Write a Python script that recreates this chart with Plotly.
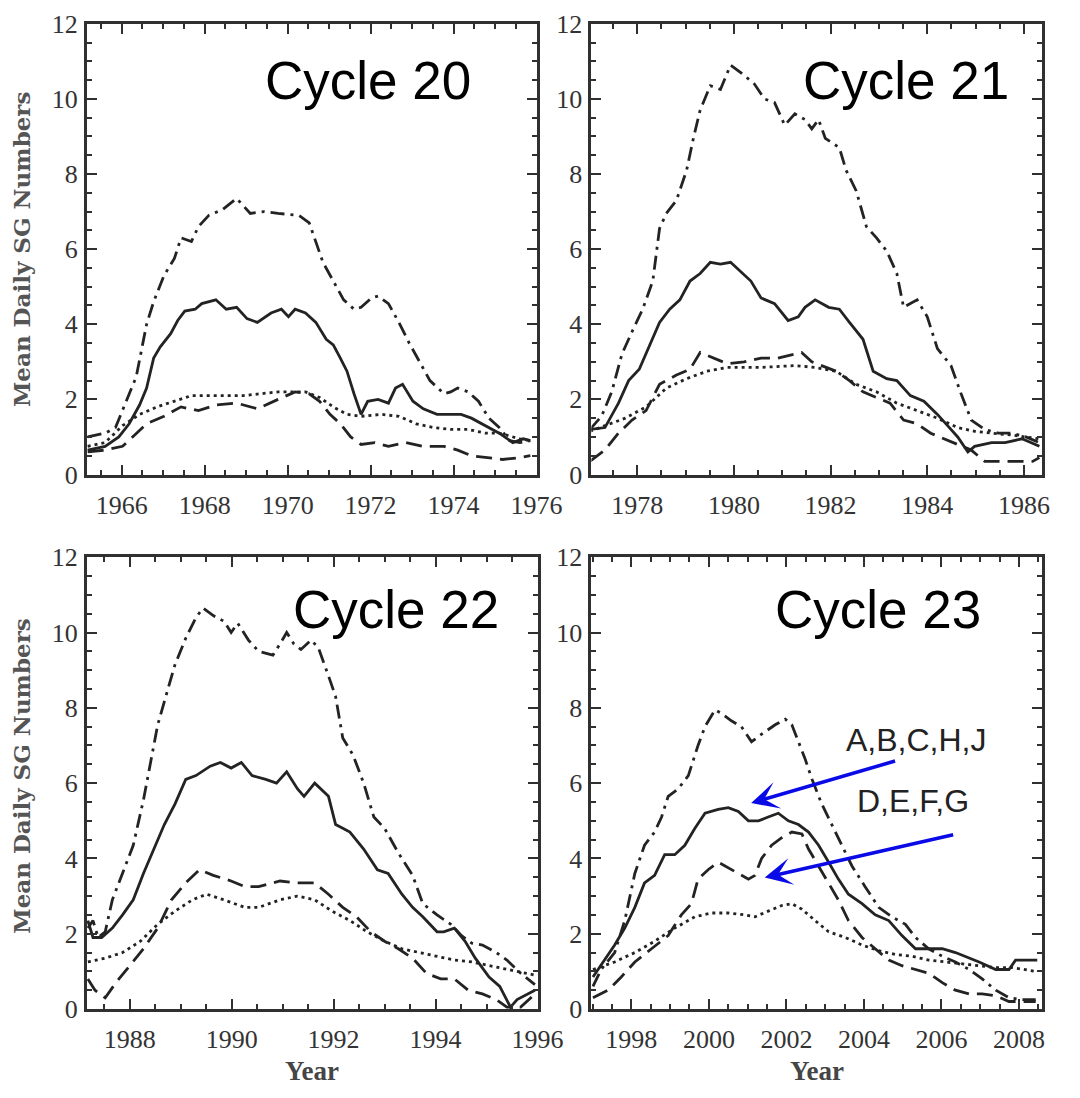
import plotly.graph_objects as go

# ---------------- data (year, mean daily SG number) ----------------
# Cycle 20
c20_dashdot_x = [1965.18,1965.60,1965.85,1966.10,1966.35,1966.60,1966.77,1967.02,1967.27,1967.43,1967.68,1967.85,1968.10,1968.43,1968.77,1969.10,1969.43,1969.77,1970.27,1970.52,1970.68,1970.85,1971.10,1971.35,1971.60,1971.77,1972.02,1972.18,1972.43,1972.68,1972.93,1973.18,1973.43,1973.77,1973.93,1974.10,1974.35,1974.60,1974.85,1975.10,1975.35,1975.60,1975.85]
c20_dashdot_y = [1.0,1.1,1.25,1.9,2.6,4.0,4.6,5.3,5.75,6.3,6.2,6.6,6.9,7.05,7.35,6.95,7.0,6.95,6.9,6.7,6.2,5.65,5.15,4.65,4.4,4.45,4.7,4.75,4.55,4.05,3.5,3.0,2.5,2.15,2.2,2.3,2.2,1.95,1.5,1.25,0.9,0.85,0.9]
c20_solid_x = [1965.18,1965.60,1965.93,1966.18,1966.43,1966.60,1966.77,1966.93,1967.18,1967.35,1967.52,1967.77,1967.93,1968.27,1968.52,1968.77,1969.02,1969.27,1969.60,1969.85,1970.02,1970.18,1970.43,1970.68,1970.93,1971.10,1971.27,1971.43,1971.60,1971.77,1971.93,1972.18,1972.43,1972.60,1972.77,1973.02,1973.27,1973.60,1973.93,1974.18,1974.43,1974.77,1975.10,1975.43,1975.68,1975.85]
c20_solid_y = [0.65,0.75,1.0,1.35,1.85,2.3,3.1,3.4,3.75,4.1,4.35,4.4,4.55,4.65,4.4,4.45,4.15,4.05,4.3,4.4,4.2,4.4,4.3,4.05,3.6,3.45,3.1,2.75,2.15,1.6,1.95,2.0,1.9,2.3,2.4,1.95,1.75,1.6,1.6,1.6,1.5,1.3,1.1,0.85,0.95,0.9]
c20_dashed_x = [1965.18,1965.60,1966.02,1966.27,1966.60,1967.02,1967.43,1967.85,1968.27,1968.77,1969.27,1969.77,1970.18,1970.52,1970.77,1971.02,1971.27,1971.52,1971.77,1972.10,1972.43,1972.85,1973.27,1973.77,1974.10,1974.43,1974.77,1975.18,1975.60,1975.85]
c20_dashed_y = [0.6,0.65,0.75,1.0,1.35,1.55,1.8,1.7,1.85,1.9,1.75,2.0,2.2,2.15,1.95,1.6,1.35,1.0,0.8,0.85,0.75,0.85,0.75,0.75,0.65,0.5,0.45,0.4,0.45,0.5]
c20_dotted_x = [1965.18,1965.60,1966.02,1966.43,1966.85,1967.27,1967.68,1968.10,1968.93,1969.77,1970.43,1970.77,1971.10,1971.43,1971.77,1972.27,1972.68,1973.10,1973.52,1973.93,1974.35,1974.77,1975.10,1975.60,1975.85]
c20_dotted_y = [0.75,0.85,1.3,1.6,1.8,1.95,2.1,2.1,2.1,2.2,2.2,2.05,1.8,1.6,1.55,1.6,1.55,1.35,1.25,1.2,1.2,1.1,1.1,0.95,0.9]

# Cycle 21
c21_dashdot_x = [1977.02,1977.26,1977.47,1977.68,1977.89,1978.11,1978.32,1978.46,1978.60,1978.81,1979.02,1979.16,1979.30,1979.51,1979.72,1979.93,1980.14,1980.42,1980.63,1980.84,1981.05,1981.26,1981.47,1981.61,1981.75,1981.89,1982.18,1982.32,1982.53,1982.74,1982.95,1983.16,1983.37,1983.51,1983.79,1984.00,1984.21,1984.49,1984.70,1984.91,1985.19,1985.47,1985.75,1986.04,1986.32]
c21_dashdot_y = [1.2,1.55,2.2,3.2,3.8,4.4,5.15,6.55,6.95,7.3,8.1,8.95,9.7,10.35,10.25,10.9,10.7,10.4,10.0,9.9,9.3,9.6,9.45,9.2,9.45,8.95,8.7,8.1,7.55,6.6,6.3,5.95,5.35,4.45,4.65,4.2,3.35,2.9,2.15,1.45,1.2,1.1,1.1,1.0,0.85]
c21_solid_x = [1977.02,1977.33,1977.61,1977.82,1978.04,1978.25,1978.46,1978.67,1978.88,1979.09,1979.30,1979.51,1979.72,1979.93,1980.14,1980.35,1980.56,1980.84,1981.12,1981.33,1981.47,1981.68,1981.96,1982.18,1982.39,1982.67,1982.88,1983.16,1983.37,1983.65,1983.93,1984.21,1984.42,1984.63,1984.84,1984.98,1985.33,1985.61,1985.96,1986.32]
c21_solid_y = [1.2,1.25,1.9,2.5,2.8,3.45,4.05,4.4,4.65,5.15,5.35,5.65,5.6,5.65,5.4,5.15,4.7,4.55,4.1,4.2,4.45,4.65,4.45,4.4,4.05,3.6,2.75,2.55,2.5,2.1,1.95,1.6,1.3,1.0,0.6,0.75,0.85,0.85,0.95,0.75]
c21_dashed_x = [1977.02,1977.33,1977.61,1977.89,1978.18,1978.46,1978.81,1979.09,1979.30,1979.58,1979.86,1980.21,1980.56,1980.91,1981.26,1981.40,1981.61,1981.82,1982.11,1982.39,1982.67,1982.95,1983.23,1983.51,1983.79,1984.07,1984.35,1984.56,1984.91,1985.19,1985.47,1985.82,1986.18,1986.32]
c21_dashed_y = [0.35,0.65,1.1,1.45,1.7,2.4,2.65,2.8,3.25,3.1,2.95,3.0,3.1,3.1,3.2,3.25,3.0,2.9,2.75,2.5,2.2,2.05,1.9,1.45,1.35,1.1,0.95,0.85,0.65,0.35,0.35,0.35,0.35,0.45]
c21_dotted_x = [1977.02,1977.33,1977.75,1978.18,1978.60,1979.02,1979.44,1979.86,1980.56,1981.26,1981.68,1982.11,1982.53,1982.95,1983.37,1983.79,1984.21,1984.63,1984.98,1985.33,1985.75,1986.32]
c21_dotted_y = [1.15,1.3,1.5,1.8,2.3,2.55,2.75,2.85,2.85,2.9,2.85,2.75,2.4,2.2,1.9,1.7,1.5,1.25,1.15,1.1,1.05,0.95]

# Cycle 22
c22_dashdot_x = [1987.18,1987.28,1987.38,1987.52,1987.66,1987.86,1988.07,1988.27,1988.41,1988.55,1988.75,1988.89,1989.10,1989.30,1989.44,1989.64,1989.85,1989.99,1990.12,1990.33,1990.53,1990.81,1990.95,1991.08,1991.22,1991.36,1991.56,1991.70,1991.90,1992.04,1992.18,1992.38,1992.59,1992.79,1993.00,1993.27,1993.55,1993.75,1994.03,1994.30,1994.51,1994.71,1994.92,1995.19,1995.40,1995.67,1995.95]
c22_dashdot_y = [2.15,2.35,1.9,2.05,2.9,3.6,4.35,5.55,6.55,7.55,8.5,9.15,9.85,10.4,10.65,10.45,10.3,10.0,10.25,9.8,9.5,9.4,9.7,10.0,9.7,9.55,9.8,9.6,8.85,8.3,7.2,6.75,6.0,5.1,4.8,4.15,3.55,2.8,2.5,2.25,1.95,1.75,1.7,1.5,1.3,0.95,0.65]
c22_solid_x = [1987.18,1987.28,1987.45,1987.66,1987.86,1988.07,1988.27,1988.48,1988.68,1988.89,1989.10,1989.30,1989.58,1989.78,1989.99,1990.19,1990.40,1990.67,1990.88,1991.08,1991.29,1991.42,1991.63,1991.90,1992.04,1992.18,1992.32,1992.59,1992.86,1993.07,1993.34,1993.55,1993.75,1994.03,1994.16,1994.37,1994.58,1994.78,1995.05,1995.26,1995.47,1995.60,1995.81,1995.95]
c22_solid_y = [2.35,1.9,1.9,2.15,2.5,2.9,3.6,4.25,4.9,5.45,6.1,6.2,6.45,6.55,6.4,6.55,6.2,6.1,6.0,6.3,5.85,5.65,6.0,5.65,4.9,4.8,4.7,4.25,3.7,3.6,3.05,2.7,2.45,2.05,2.05,2.15,1.8,1.35,0.85,0.6,0.05,0.25,0.4,0.5]
c22_dashed_x = [1987.18,1987.32,1987.52,1987.73,1988.00,1988.27,1988.55,1988.82,1989.10,1989.37,1989.64,1989.99,1990.26,1990.53,1990.95,1991.29,1991.63,1991.90,1992.18,1992.45,1992.73,1993.00,1993.27,1993.55,1993.82,1994.10,1994.37,1994.64,1994.92,1995.19,1995.40,1995.67,1995.95]
c22_dashed_y = [0.8,0.5,0.3,0.7,1.15,1.6,2.15,2.9,3.35,3.7,3.55,3.4,3.25,3.25,3.4,3.35,3.35,3.05,2.7,2.45,2.05,1.8,1.6,1.35,0.95,0.8,0.8,0.5,0.4,0.25,0.05,0.05,0.4]
c22_dotted_x = [1987.18,1987.52,1987.86,1988.21,1988.55,1988.89,1989.23,1989.51,1989.85,1990.26,1990.53,1990.95,1991.29,1991.63,1991.97,1992.32,1992.66,1993.00,1993.34,1993.68,1994.03,1994.37,1994.71,1995.05,1995.40,1995.74,1995.95]
c22_dotted_y = [1.25,1.35,1.5,1.8,2.25,2.6,2.9,3.05,2.9,2.7,2.7,2.9,3.0,2.9,2.6,2.35,2.05,1.8,1.6,1.5,1.4,1.3,1.25,1.15,1.05,0.95,0.9]

# Cycle 23
c23_dashdot_x = [1997.01,1997.22,1997.57,1997.83,1998.09,1998.34,1998.60,1998.78,1998.95,1999.21,1999.47,1999.72,1999.90,2000.16,2000.33,2000.59,2000.84,2001.10,2001.36,2001.71,2001.97,2002.14,2002.31,2002.48,2002.66,2002.91,2003.17,2003.43,2003.69,2004.03,2004.38,2004.72,2005.07,2005.33,2005.67,2006.02,2006.36,2006.71,2007.05,2007.40,2007.74,2008.09,2008.43]
c23_dashdot_y = [0.6,1.05,1.5,2.35,3.6,4.35,4.7,5.1,5.65,5.85,6.2,7.0,7.5,7.95,7.85,7.65,7.5,7.1,7.3,7.55,7.7,7.55,7.1,6.65,6.1,5.45,4.9,4.35,3.8,3.25,2.7,2.45,2.25,1.9,1.6,1.4,1.25,1.05,0.8,0.5,0.3,0.25,0.25]
c23_solid_x = [1997.01,1997.31,1997.57,1997.83,1998.09,1998.34,1998.60,1998.86,1999.12,1999.38,1999.64,1999.90,2000.24,2000.50,2000.76,2001.02,2001.28,2001.53,2001.79,2002.05,2002.31,2002.57,2002.83,2003.09,2003.34,2003.60,2003.95,2004.29,2004.64,2004.98,2005.33,2005.67,2006.02,2006.36,2006.62,2006.97,2007.40,2007.74,2007.91,2008.26,2008.47]
c23_solid_y = [0.85,1.3,1.7,2.15,2.7,3.35,3.55,4.1,4.1,4.35,4.8,5.2,5.3,5.35,5.25,5.0,5.0,5.1,5.2,5.0,4.9,4.7,4.35,3.9,3.45,3.05,2.8,2.5,2.35,1.95,1.6,1.6,1.6,1.5,1.4,1.25,1.05,1.05,1.3,1.3,1.3]
c23_dashed_x = [1997.01,1997.40,1997.74,1998.09,1998.52,1998.95,1999.29,1999.55,1999.72,1999.98,2000.24,2000.50,2000.76,2001.02,2001.19,2001.36,2001.62,2001.88,2002.14,2002.40,2002.57,2002.83,2003.09,2003.34,2003.60,2003.95,2004.29,2004.64,2004.98,2005.33,2005.67,2006.02,2006.36,2006.71,2007.05,2007.40,2007.74,2008.09,2008.43]
c23_dashed_y = [0.3,0.5,0.85,1.25,1.6,1.95,2.5,2.8,3.45,3.7,3.9,3.75,3.6,3.45,3.55,4.0,4.35,4.55,4.7,4.65,4.25,3.8,3.35,2.9,2.35,1.9,1.6,1.3,1.15,1.05,0.95,0.7,0.5,0.4,0.4,0.35,0.2,0.2,0.2]
c23_dotted_x = [1997.01,1997.57,1998.09,1998.60,1999.12,1999.64,2000.07,2000.50,2000.93,2001.19,2001.53,2001.88,2002.14,2002.40,2002.74,2003.09,2003.52,2003.95,2004.38,2004.81,2005.24,2005.67,2006.10,2006.53,2006.97,2007.40,2007.83,2008.43]
c23_dotted_y = [1.05,1.25,1.5,1.8,2.15,2.45,2.55,2.55,2.5,2.45,2.6,2.75,2.8,2.65,2.35,2.05,1.9,1.7,1.55,1.45,1.4,1.3,1.25,1.2,1.15,1.1,1.1,1.0]

cycle_labels = ["Cycle 20", "Cycle 21", "Cycle 22", "Cycle 23"]
x_ranges = [[1965.16, 1976.005], [1977.05, 1986.38], [1987.16, 1996.005], [1996.97, 2008.6]]
y_range = [0, 12]
y_title = "Mean Daily SG Numbers"
x_title = "Year"
group_labels = ["A,B,C,H,J", "D,E,F,G"]

# ---------------- figure ----------------
W, H = 1080, 1098
LINE = "#232323"
AX = "#303030"
dash_styles = {
    "dashdot": "14px,6px,3px,6px",
    "solid": "solid",
    "dashed": "16px,8px",
    "dotted": "3px,4px",
}

series = [
    {"dotted": (c20_dotted_x, c20_dotted_y), "dashed": (c20_dashed_x, c20_dashed_y),
     "solid": (c20_solid_x, c20_solid_y), "dashdot": (c20_dashdot_x, c20_dashdot_y)},
    {"dotted": (c21_dotted_x, c21_dotted_y), "dashed": (c21_dashed_x, c21_dashed_y),
     "solid": (c21_solid_x, c21_solid_y), "dashdot": (c21_dashdot_x, c21_dashdot_y)},
    {"dotted": (c22_dotted_x, c22_dotted_y), "dashed": (c22_dashed_x, c22_dashed_y),
     "solid": (c22_solid_x, c22_solid_y), "dashdot": (c22_dashdot_x, c22_dashdot_y)},
    {"dotted": (c23_dotted_x, c23_dotted_y), "dashed": (c23_dashed_x, c23_dashed_y),
     "solid": (c23_solid_x, c23_solid_y), "dashdot": (c23_dashdot_x, c23_dashdot_y)},
]

# panel frames in pixels: (left, right, top, bottom)
frames = [(89, 550, 10, 473), (606, 1068, 10, 473), (89, 551, 558, 1022), (606, 1068, 558, 1022)]

fig = go.Figure()
axis_ids = ["", "2", "3", "4"]
for i, s in enumerate(series):
    for key in ["dotted", "dashed", "solid", "dashdot"]:
        xs, ys = s[key]
        fig.add_trace(go.Scatter(
            x=xs, y=ys, mode="lines",
            line=dict(color=LINE, width=2.8, dash=dash_styles[key]),
            xaxis="x" + axis_ids[i], yaxis="y" + axis_ids[i],
            showlegend=False, hoverinfo="skip",
        ))

tickfont = dict(family="Liberation Serif, Times New Roman, serif", size=26, color="#333333")
layout = dict(
    width=W, height=H,
    margin=dict(l=0, r=0, t=0, b=0),
    paper_bgcolor="white", plot_bgcolor="white",
    showlegend=False,
)
for i, (l, r, t, b) in enumerate(frames):
    xd = [l / W, r / W]
    yd = [1 - b / H, 1 - t / H]
    xa = dict(
        domain=xd, range=x_ranges[i], anchor="y" + axis_ids[i],
        showline=True, mirror="ticks", linecolor=AX, linewidth=2.8,
        ticks="inside", ticklen=10, tickwidth=2, tickcolor=AX,
        dtick=2, tick0=0, showgrid=False, zeroline=False,
        tickfont=tickfont, ticklabelstandoff=5,
        minor=dict(ticks="inside", ticklen=5, tickwidth=1.6, tickcolor=AX, dtick=0.5, tick0=0, showgrid=False),
    )
    ya = dict(
        domain=yd, range=y_range, anchor="x" + axis_ids[i],
        showline=True, mirror="ticks", linecolor=AX, linewidth=2.8,
        ticks="inside", ticklen=10, tickwidth=2, tickcolor=AX,
        dtick=2, tick0=0, showgrid=False, zeroline=False,
        tickfont=tickfont, ticklabelstandoff=1,
        minor=dict(ticks="inside", ticklen=5, tickwidth=1.6, tickcolor=AX, dtick=0.5, tick0=0, showgrid=False),
    )
    layout["xaxis" + axis_ids[i]] = xa
    layout["yaxis" + axis_ids[i]] = ya
fig.update_layout(**layout)

annotations = []
# cycle labels (pixel centres converted to paper coordinates)
cycle_pos = [(377, 68), (928, 68), (406, 612), (900, 612)]
for lab, (px, py) in zip(cycle_labels, cycle_pos):
    annotations.append(dict(
        text=lab, x=px / W, y=1 - py / H, xref="paper", yref="paper",
        xanchor="center", yanchor="middle", showarrow=False,
        font=dict(family="Liberation Sans, Arial, sans-serif", size=53, color="black"),
    ))
# y-axis titles (left column)
for py in [241, 782]:
    annotations.append(dict(
        text="<b>" + y_title + "</b>", x=22 / W, y=1 - py / H, xref="paper", yref="paper",
        xanchor="center", yanchor="middle", textangle=-90, showarrow=False,
        font=dict(family="DejaVu Serif, serif", size=23, color="#555555"),
    ))
# x-axis titles (bottom row)
for px in [320, 837]:
    annotations.append(dict(
        text="<b>" + x_title + "</b>", x=px / W, y=1 - 1086 / H, xref="paper", yref="paper",
        xanchor="center", yanchor="middle", showarrow=False,
        font=dict(family="Liberation Serif, Times New Roman, serif", size=27, color="#454545"),
    ))
# group labels in Cycle 23 panel
annotations.append(dict(
    text=group_labels[0], x=2005.35, y=7.14, xref="x4", yref="y4",
    xanchor="center", yanchor="middle", showarrow=False,
    font=dict(family="Liberation Sans, Arial, sans-serif", size=32, color="#222222"),
))
annotations.append(dict(
    text=group_labels[1], x=2005.27, y=5.53, xref="x4", yref="y4",
    xanchor="center", yanchor="middle", showarrow=False,
    font=dict(family="Liberation Sans, Arial, sans-serif", size=32, color="#222222"),
))
# arrows (tip at x,y; tail at ax,ay)
for (tx, ty, sx, sy) in [(2001.09, 5.47, 2004.84, 6.60), (2001.44, 3.49, 2006.34, 4.64)]:
    annotations.append(dict(
        text="", x=tx, y=ty, xref="x4", yref="y4",
        ax=sx, ay=sy, axref="x4", ayref="y4",
        showarrow=True, arrowhead=3, arrowsize=1.3, arrowwidth=3.5, arrowcolor="#0a0ae6",
    ))
fig.update_layout(annotations=annotations)

fig.write_html("out.html")
